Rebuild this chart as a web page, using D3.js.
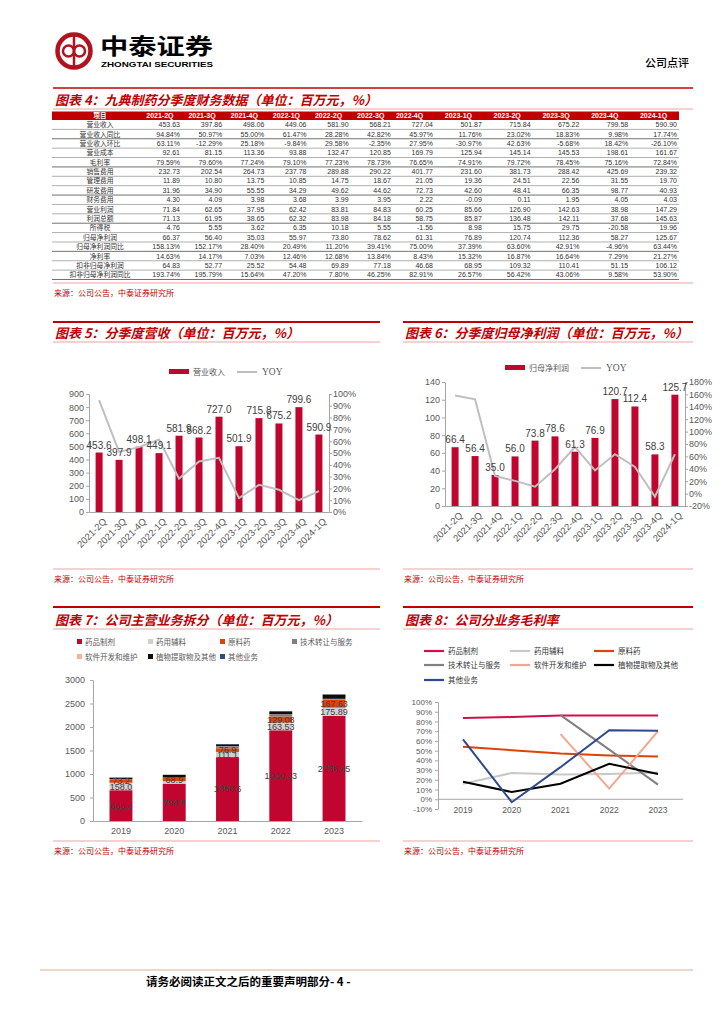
<!DOCTYPE html>
<html>
<head>
<meta charset="utf-8">
<script src="https://cdn.jsdelivr.net/npm/d3@7"></script>
<style>
  body { margin: 0; background: #fff; }
</style>
</head>
<body>
<svg id="page" width="724" height="1024"></svg>
<script>
// ---- data ----
let quarters = ['2021-2Q', '2021-3Q', '2021-4Q', '2022-1Q', '2022-2Q', '2022-3Q', '2022-4Q', '2023-1Q', '2023-2Q', '2023-3Q', '2023-4Q', '2024-1Q'];

let revenue = [453.63, 397.86, 498.06, 449.06, 581.90, 568.21, 727.04, 501.87, 715.84, 675.22, 799.58, 590.90];
let revenueYoy = [94.84, 50.97, 55.00, 61.47, 28.28, 42.82, 45.97, 11.76, 23.02, 18.83, 9.98, 17.74];
let revenueQoq = [63.11, -12.29, 25.18, -9.84, 29.58, -2.35, 27.95, -30.97, 42.63, -5.68, 18.42, -26.10];
let cost = [92.61, 81.15, 113.36, 93.88, 132.47, 120.85, 169.79, 125.94, 145.14, 145.53, 198.61, 161.67];
let grossMargin = [79.59, 79.60, 77.24, 79.10, 77.23, 78.73, 76.65, 74.91, 79.72, 78.45, 75.16, 72.84];
let sellingExp = [232.73, 202.54, 264.73, 237.78, 289.88, 290.22, 401.77, 231.60, 381.73, 288.42, 425.69, 239.32];
let adminExp = [11.89, 10.80, 13.75, 10.85, 14.75, 18.67, 21.05, 19.36, 24.51, 22.56, 31.55, 19.70];
let rdExp = [31.96, 34.90, 55.55, 34.29, 49.62, 44.62, 72.73, 42.60, 48.41, 66.35, 98.77, 40.93];
let financeExp = [4.30, 4.09, 3.98, 3.68, 3.99, 3.95, 2.22, -0.09, 0.11, 1.95, 4.05, 4.03];
let opProfit = [71.84, 62.65, 37.95, 62.42, 83.81, 84.83, 60.25, 85.66, 126.90, 142.63, 38.98, 147.29];
let totalProfit = [71.13, 61.95, 38.65, 62.32, 83.98, 84.18, 58.75, 85.87, 136.48, 142.11, 37.68, 145.63];
let incomeTax = [4.76, 5.55, 3.62, 6.35, 10.18, 5.55, -1.56, 8.98, 15.75, 29.75, -20.58, 19.96];
let netProfit = [66.37, 56.40, 35.03, 55.97, 73.80, 78.62, 61.31, 76.89, 120.74, 112.36, 58.27, 125.67];
let netProfitYoy = [158.13, 152.17, 28.40, 20.49, 11.20, 39.41, 75.00, 37.39, 63.60, 42.91, -4.96, 63.44];
let netMargin = [14.63, 14.17, 7.03, 12.46, 12.68, 13.84, 8.43, 15.32, 16.87, 16.64, 7.29, 21.27];
let deductNet = [64.83, 52.77, 25.52, 54.48, 69.89, 77.18, 46.68, 68.95, 109.32, 110.41, 51.15, 106.12];
let deductNetYoy = [193.74, 195.79, 15.64, 47.20, 7.80, 46.25, 82.91, 26.57, 56.42, 43.06, 9.58, 53.90];

let rowNames = ['营业收入', '营业收入同比', '营业收入环比', '营业成本', '毛利率', '销售费用', '管理费用', '研发费用', '财务费用',
  '营业利润', '利润总额', '所得税', '归母净利润', '归母净利润同比', '净利率', '扣非归母净利润', '扣非归母净利润同比'];
let rowValues = [revenue, revenueYoy, revenueQoq, cost, grossMargin, sellingExp, adminExp, rdExp, financeExp,
  opProfit, totalProfit, incomeTax, netProfit, netProfitYoy, netMargin, deductNet, deductNetYoy];
let pctRows = ['营业收入同比', '营业收入环比', '毛利率', '归母净利润同比', '净利率', '扣非归母净利润同比'];

let years = ['2019', '2020', '2021', '2022', '2023'];
let segments = ['药品制剂', '药用辅料', '原料药', '技术转让与服务', '软件开发和维护', '植物提取物及其他', '其他业务'];
let segDrug = [655.3, 794.8, 1358.6, 1930.33, 2236.45];
let segExcipient = [158.0, 52.0, 111.1, 163.53, 175.89];
let segApi = [73.2, 68.9, 76.9, 129.08, 167.63];
let segTech = [6, 10, 40, 45, 15];
let segSoftware = [0, 0, 5, 3, 5];
let segPlant = [30, 55, 40, 62, 90];
let segOther = [2, 4, 6, 4, 5];

let gmDrug = [83.5, 84.5, 86, 86, 86];
let gmExcipient = [16, 27, 25.5, 26, 27.5];
let gmApi = [54, 50.5, 47, 45, 44];
let gmTech = [null, null, 86.5, 51, 15];
let gmSoftware = [null, null, 67, 11, 70];
let gmPlant = [18, 7.5, 16, 36.5, 26];
let gmOther = [61.5, -3, 33, 71, 70.5];

// ---- styles ----
const CN = '"Noto Sans CJK SC", sans-serif';
const NUM = '"Liberation Sans", Arial, sans-serif';
const RED = '#c00000';
const PINK = '#eba3a3';
const BAR = '#c0062f';
const GRAY_LINE = '#bfbfbf';
const AXIS = '#a6a6a6';
const TICK_TXT = '#595959';

let svg = d3.select('#page');

// ---- page header ----
let logo = svg.append('g');
logo.append('circle').attr('cx', 74).attr('cy', 51).attr('r', 16.5)
  .attr('fill', 'none').attr('stroke', '#b3121c').attr('stroke-width', 4.5);
logo.append('line').attr('x1', 74).attr('x2', 74).attr('y1', 36).attr('y2', 66)
  .attr('stroke', '#b3121c').attr('stroke-width', 2.5);
logo.append('circle').attr('cx', 68.5).attr('cy', 51).attr('r', 5.5)
  .attr('fill', 'none').attr('stroke', '#b3121c').attr('stroke-width', 2.5);
logo.append('circle').attr('cx', 79.5).attr('cy', 51).attr('r', 5.5)
  .attr('fill', 'none').attr('stroke', '#b3121c').attr('stroke-width', 2.5);
svg.append('text').attr('x', 100).attr('y', 54).text('中泰证券')
  .attr('font-family', CN).attr('font-weight', 700).attr('font-size', 22)
  .attr('textLength', 113).attr('lengthAdjust', 'spacingAndGlyphs');
svg.append('text').attr('x', 101).attr('y', 67).text('ZHONGTAI SECURITIES')
  .attr('font-family', NUM).attr('font-weight', 700).attr('font-size', 8)
  .attr('textLength', 112).attr('lengthAdjust', 'spacingAndGlyphs');
svg.append('text').attr('x', 645).attr('y', 67).text('公司点评')
  .attr('font-family', CN).attr('font-weight', 500).attr('font-size', 11);
svg.append('line').attr('x1', 53).attr('x2', 693).attr('y1', 88).attr('y2', 88)
  .attr('stroke', RED).attr('stroke-width', 1.6);

// ---- footer ----
svg.append('line').attr('x1', 40).attr('x2', 693).attr('y1', 970).attr('y2', 970)
  .attr('stroke', '#e9ccb4').attr('stroke-width', 1.5);
svg.append('text').attr('x', 146).attr('y', 986).text('请务必阅读正文之后的重要声明部分- 4 -')
  .attr('font-family', CN).attr('font-weight', 700).attr('font-size', 11.5);

// ---- section frame ----
function section(x0, x1, yTop, yUnder, yBottom, title, topLine) {
  if (topLine) {
    svg.append('line').attr('x1', x0).attr('x2', x1).attr('y1', yTop).attr('y2', yTop)
      .attr('stroke', RED).attr('stroke-width', 2);
  }
  svg.append('text').attr('x', x0 + 2).attr('y', yUnder - 4).text(title)
    .attr('font-family', CN).attr('font-weight', 700).attr('font-style', 'italic')
    .attr('font-size', 13).attr('fill', RED);
  svg.append('line').attr('x1', x0).attr('x2', x1).attr('y1', yUnder).attr('y2', yUnder)
    .attr('stroke', PINK).attr('stroke-width', 1);
  svg.append('line').attr('x1', x0).attr('x2', x1).attr('y1', yBottom).attr('y2', yBottom)
    .attr('stroke', PINK).attr('stroke-width', 1.2);
  svg.append('text').attr('x', x0 + 1).attr('y', yBottom + 13).text('来源：公司公告，中泰证券研究所')
    .attr('font-family', CN).attr('font-size', 8).attr('fill', RED);
}

// ---- table (图表4) ----
section(53, 693, 88, 109, 283, '图表 4：九典制药分季度财务数据（单位：百万元，%）', false);

let tableTop = 111.5;
let headH = 8.5;
let rowH = (279.5 - tableTop - headH) / rowNames.length;
let colEdge = d3.scaleLinear().domain([0, 6, 11]).range([180, 433, 677]);
let colStep = i => (i < 6 ? 42.2 : 48.8);

let table = svg.append('g');
table.append('rect').attr('x', 52).attr('y', tableTop).attr('width', 627).attr('height', headH).attr('fill', RED);
table.append('text').attr('x', 100).attr('y', tableTop + 6.8).text('项目')
  .attr('text-anchor', 'middle').attr('font-family', CN).attr('font-weight', 700)
  .attr('font-size', 6.5).attr('fill', '#fff');
table.selectAll('text.qh').data(quarters).enter().append('text')
  .attr('class', 'qh')
  .attr('x', (d, i) => colEdge(i) - colStep(i) / 2 + 1)
  .attr('y', tableTop + 6.8)
  .attr('text-anchor', 'middle')
  .attr('font-family', NUM).attr('font-weight', 700).attr('font-size', 7).attr('fill', '#fff')
  .text(d => d);

let rows = table.selectAll('g.row').data(rowNames).enter().append('g')
  .attr('class', 'row')
  .attr('transform', (d, i) => `translate(0,${tableTop + headH + i * rowH})`);
rows.append('line').attr('x1', 52).attr('x2', 679).attr('y1', rowH).attr('y2', rowH)
  .attr('stroke', (d, i) => (i % 3 === 1 ? '#333' : '#8c8c8c')).attr('stroke-width', 0.7);
rows.append('text').attr('x', 100).attr('y', rowH - 2.2).text(d => d)
  .attr('text-anchor', 'middle').attr('font-family', CN).attr('font-size', 6.8).attr('fill', '#333');
rows.each(function (name, r) {
  let pct = pctRows.includes(name);
  d3.select(this).selectAll('text.v').data(rowValues[r]).enter().append('text')
    .attr('class', 'v')
    .attr('x', (d, i) => colEdge(i))
    .attr('y', rowH - 2.2)
    .attr('text-anchor', 'end')
    .attr('font-family', NUM).attr('font-size', 7).attr('fill', '#333')
    .text(d => d3.format('.2f')(d).replace('−', '-') + (pct ? '%' : ''));
});

// ---- combo bar + line chart ----
function comboChart(opt) {
  let g = svg.append('g');
  let x = d3.scaleBand().domain(quarters).range([opt.left, opt.right]).paddingInner(0.65).paddingOuter(0.33);
  let y = d3.scaleLinear().domain(opt.yDomain).range([opt.bottom, opt.top]);
  let y2 = d3.scaleLinear().domain(opt.y2Domain).range([opt.bottom, opt.top]);

  let la = g.append('g').attr('transform', `translate(${opt.left},0)`)
    .call(d3.axisLeft(y).tickValues(d3.range(opt.yDomain[0], opt.yDomain[1] + 1, opt.yStep)).tickSizeOuter(0).tickSizeInner(3).tickPadding(2));
  let ra = g.append('g').attr('transform', `translate(${opt.right},0)`)
    .call(d3.axisRight(y2).tickValues(d3.range(opt.y2Domain[0], opt.y2Domain[1] + 1, opt.y2Step)).tickSizeOuter(0).tickSizeInner(3).tickPadding(1)
      .tickFormat(d => d + '%'));
  let ba = g.append('g').attr('transform', `translate(0,${opt.bottom})`)
    .call(d3.axisBottom(x).tickSize(0).tickFormat(''));
  [la, ra, ba].forEach(a => {
    a.selectAll('path, line').attr('stroke', AXIS);
    a.selectAll('text').attr('font-family', NUM).attr('font-size', 9).attr('fill', TICK_TXT);
  });

  g.selectAll('text.cat').data(quarters).enter().append('text')
    .attr('class', 'cat')
    .attr('transform', d => `translate(${x(d) + x.bandwidth() / 2 + 4},${opt.bottom + 6}) rotate(-45)`)
    .attr('text-anchor', 'end').attr('dy', '0.6em')
    .attr('font-family', NUM).attr('font-size', 9.5).attr('fill', TICK_TXT)
    .text(d => d);

  g.selectAll('rect.bar').data(opt.bars).enter().append('rect')
    .attr('class', 'bar')
    .attr('x', (d, i) => x(quarters[i]))
    .attr('y', d => y(d))
    .attr('width', x.bandwidth())
    .attr('height', d => y(0) - y(d))
    .attr('fill', BAR);

  let line = d3.line().x((d, i) => x(quarters[i]) + x.bandwidth() / 2).y(d => y2(d));
  g.append('path').datum(opt.yoy).attr('d', line)
    .attr('fill', 'none').attr('stroke', GRAY_LINE).attr('stroke-width', 2);

  g.selectAll('text.lbl').data(opt.bars).enter().append('text')
    .attr('class', 'lbl')
    .attr('x', (d, i) => x(quarters[i]) + x.bandwidth() / 2)
    .attr('y', d => y(d) - 4)
    .attr('text-anchor', 'middle')
    .attr('font-family', NUM).attr('font-size', 10).attr('fill', '#404040')
    .text(d => d3.format('.1f')(d));

  // legend
  let lg = g.append('g');
  lg.append('rect').attr('x', opt.legX).attr('y', opt.legY - 3).attr('width', 20).attr('height', 5).attr('fill', BAR);
  lg.append('text').attr('x', opt.legX + 24).attr('y', opt.legY + 2.5).text(opt.barName)
    .attr('font-family', CN).attr('font-size', 8).attr('fill', TICK_TXT);
  let lx = opt.legX + 24 + opt.barName.length * 8 + 12;
  lg.append('line').attr('x1', lx).attr('x2', lx + 20).attr('y1', opt.legY).attr('y2', opt.legY)
    .attr('stroke', GRAY_LINE).attr('stroke-width', 2);
  lg.append('text').attr('x', lx + 25).attr('y', opt.legY + 3).text('YOY')
    .attr('font-family', '"Liberation Serif", serif').attr('font-size', 9.5).attr('fill', TICK_TXT);
}

section(53, 380, 322, 342, 569, '图表 5：分季度营收（单位：百万元，%）', true);
comboChart({
  left: 89, right: 329, top: 394, bottom: 512,
  yDomain: [0, 900], yStep: 100, y2Domain: [0, 100], y2Step: 10,
  bars: revenue, yoy: revenueYoy, barName: '营业收入', legX: 169, legY: 372
});

section(403, 693, 322, 342, 569, '图表 6：分季度归母净利润（单位：百万元，%）', true);
comboChart({
  left: 445, right: 685, top: 382, bottom: 506,
  yDomain: [0, 140], yStep: 20, y2Domain: [-20, 180], y2Step: 20,
  bars: netProfit, yoy: netProfitYoy, barName: '归母净利润', legX: 505, legY: 368
});

// ---- stacked bar (图表7) ----
section(53, 380, 607, 629, 841, '图表 7：公司主营业务拆分（单位：百万元，%）', true);
(function () {
  let g = svg.append('g');
  let segColors = ['#c0062f', '#d0d0d0', '#e0400c', '#7f7f7f', '#f7b298', '#0d0d0d', '#2f4b86'];
  let segSeries = [segDrug, segExcipient, segApi, segTech, segSoftware, segPlant, segOther];
  let rowsData = years.map((yr, i) => {
    let o = { year: yr };
    segments.forEach((s, k) => { o[s] = segSeries[k][i]; });
    return o;
  });
  let stacked = d3.stack().keys(segments)(rowsData);

  let x = d3.scaleBand().domain(years).range([93, 362]).paddingInner(0.57).paddingOuter(0.31);
  let y = d3.scaleLinear().domain([0, 3000]).range([821, 680]);

  let la = g.append('g').attr('transform', 'translate(93,0)')
    .call(d3.axisLeft(y).tickValues(d3.range(0, 3001, 500)).tickFormat(d3.format('d'))
      .tickSizeOuter(0).tickSizeInner(3).tickPadding(5));
  let ba = g.append('g').attr('transform', 'translate(0,821)')
    .call(d3.axisBottom(x).tickSize(0).tickPadding(7).tickSizeOuter(0));
  [la, ba].forEach(a => {
    a.selectAll('path, line').attr('stroke', AXIS);
    a.selectAll('text').attr('font-family', NUM).attr('font-size', 9).attr('fill', TICK_TXT);
  });

  g.selectAll('g.layer').data(stacked).enter().append('g')
    .attr('class', 'layer')
    .attr('fill', (d, k) => segColors[k])
    .selectAll('rect').data(d => d).enter().append('rect')
    .attr('x', d => x(d.data.year))
    .attr('y', d => y(d[1]))
    .attr('width', x.bandwidth())
    .attr('height', d => y(d[0]) - y(d[1]));

  stacked.slice(0, 3).forEach(layer => {
    g.selectAll(null).data(layer.filter(d => d[1] - d[0] >= 60)).enter().append('text')
      .attr('x', d => x(d.data.year) + x.bandwidth() / 2)
      .attr('y', d => y((d[0] + d[1]) / 2) + 3.2)
      .attr('text-anchor', 'middle')
      .attr('font-family', NUM).attr('font-size', 9).attr('fill', '#404040')
      .text(d => d3.format(years.indexOf(d.data.year) < 3 ? '.1f' : '.2f')(d[1] - d[0]));
  });

  // legend
  let legPos = [[77, 642], [148, 642], [220, 642], [292, 642], [77, 657], [148, 657], [220, 657]];
  let lg = g.selectAll('g.leg').data(segments).enter().append('g')
    .attr('class', 'leg')
    .attr('transform', (d, k) => `translate(${legPos[k][0]},${legPos[k][1]})`);
  lg.append('rect').attr('x', 0).attr('y', -3).attr('width', 5).attr('height', 5).attr('fill', (d, k) => segColors[k]);
  lg.append('text').attr('x', 8).attr('y', 2.5).text(d => d)
    .attr('font-family', CN).attr('font-size', 7.5).attr('fill', TICK_TXT);
})();

// ---- line chart (图表8) ----
section(403, 693, 607, 629, 841, '图表 8：公司分业务毛利率', true);
(function () {
  let g = svg.append('g');
  let lineColors = ['#cf0f47', '#c8c8c8', '#e0400c', '#808080', '#f8a58e', '#000000', '#2e4a8c'];
  let gmSeries = [gmDrug, gmExcipient, gmApi, gmTech, gmSoftware, gmPlant, gmOther];

  let x = d3.scalePoint().domain(years).range([463, 658]);
  let y = d3.scaleLinear().domain([-10, 100]).range([809, 702]);

  let la = g.append('g').attr('transform', 'translate(438,0)')
    .call(d3.axisLeft(y).tickValues(d3.range(-10, 101, 10)).tickSizeOuter(0).tickSizeInner(3).tickPadding(3)
      .tickFormat(d => d + '%'));
  la.selectAll('path, line').attr('stroke', AXIS);
  la.selectAll('text').attr('font-family', NUM).attr('font-size', 8).attr('fill', TICK_TXT);
  g.append('line').attr('x1', 438).attr('x2', 683).attr('y1', y(0)).attr('y2', y(0))
    .attr('stroke', AXIS).attr('stroke-width', 1);
  g.selectAll('text.yr').data(years).enter().append('text')
    .attr('class', 'yr')
    .attr('x', d => x(d)).attr('y', 813)
    .attr('text-anchor', 'middle')
    .attr('font-family', NUM).attr('font-size', 8.5).attr('fill', TICK_TXT)
    .text(d => d);

  let line = d3.line().defined(d => d != null).x((d, i) => x(years[i])).y(d => y(d));
  g.selectAll('path.gm').data(gmSeries).enter().append('path')
    .attr('class', 'gm')
    .attr('d', d => line(d))
    .attr('fill', 'none')
    .attr('stroke', (d, k) => lineColors[k])
    .attr('stroke-width', 2);

  let legPos = [[424, 651], [510, 651], [594, 651], [424, 665], [510, 665], [594, 665], [424, 680]];
  let lg = g.selectAll('g.leg8').data(segments).enter().append('g')
    .attr('class', 'leg8')
    .attr('transform', (d, k) => `translate(${legPos[k][0]},${legPos[k][1]})`);
  lg.append('line').attr('x1', 0).attr('x2', 20).attr('y1', 0).attr('y2', 0)
    .attr('stroke', (d, k) => lineColors[k]).attr('stroke-width', 2.2);
  lg.append('text').attr('x', 24).attr('y', 2.8).text(d => d)
    .attr('font-family', CN).attr('font-size', 7.5).attr('fill', '#333');
})();
</script>
</body>
</html>
